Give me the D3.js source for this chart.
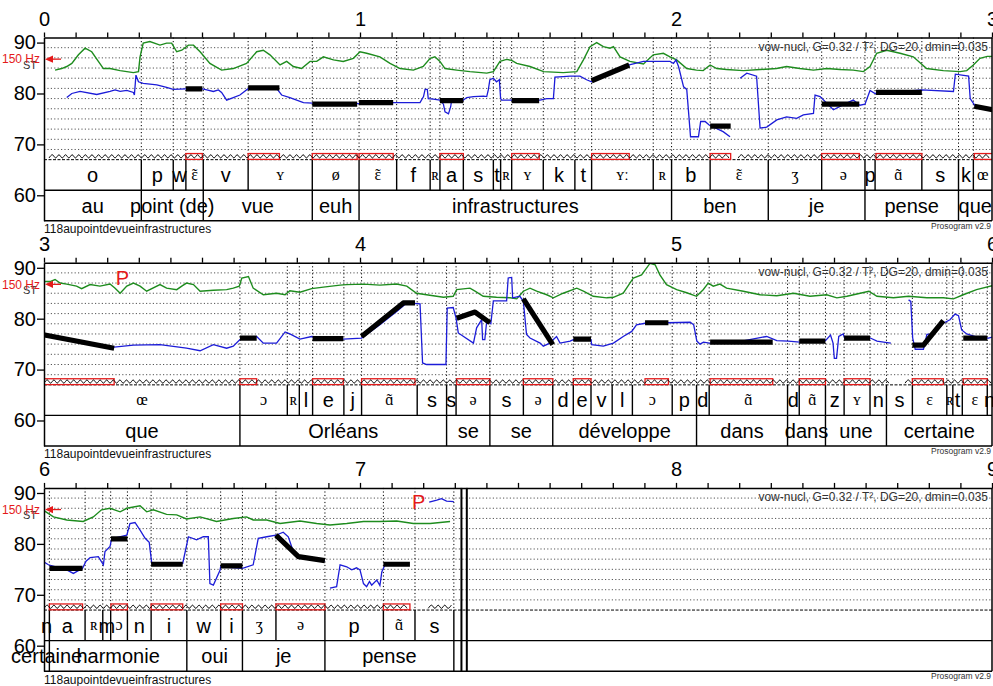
<!DOCTYPE html>
<html><head><meta charset="utf-8">
<script src="https://cdn.jsdelivr.net/npm/d3@7"></script>
<style>
body{margin:0;background:#fff;}
svg{display:block;}
text{font-family:"Liberation Sans",Arial,Helvetica,sans-serif;}
</style></head><body>
<svg id="chart" width="993" height="686"></svg>
<script>
// ---------------- DATA ----------------
const panelStarts = [0, 3, 6];
const panelDuration = 3;
const yTicks = [60, 70, 80, 90];
const gridST = [69, 71, 73, 75, 77, 79, 81, 83, 85, 87, 89];
const stRange = [55, 91];
const plotFloorST = 67, tierSplitST = 61;
const refHz = 150;
const paramText = "vow-nucl, G=0.32 / T\u00B2, DG=20, dmin=0.035";
const fileName = "118aupointdevueinfrastructures";
const versionText = "Prosogram v2.9";

// phones: [label, start, end]
const phones = [
["o",0.000,0.308],["p",0.308,0.409],["w",0.409,0.449],["ɛ̃",0.449,0.504],["v",0.504,0.646],["ʏ",0.646,0.849],
["ø",0.849,0.997],["ɛ̃",0.997,1.116],["f",1.116,1.222],["ʀ",1.222,1.253],["a",1.253,1.327],["s",1.327,1.422],
["t",1.422,1.445],["ʀ",1.445,1.480],["ʏ",1.480,1.580],["k",1.580,1.680],["t",1.680,1.733],["ʏː",1.733,1.928],
["ʀ",1.928,1.986],["b",1.986,2.108],["ɛ̃",2.108,2.292],["ʒ",2.292,2.461],["ə",2.461,2.598],["p",2.598,2.630],
["ɑ̃",2.630,2.778],["s",2.778,2.894],["k",2.894,2.941],["œ",2.941,3.620],["ɔ",3.620,3.770],["ʀ",3.770,3.808],
["l",3.808,3.850],["e",3.850,3.949],["j",3.949,4.005],["ɑ̃",4.005,4.181],["s",4.181,4.274],["s",4.274,4.304],
["ə",4.304,4.411],["s",4.411,4.517],["ə",4.517,4.610],["d",4.610,4.675],["e",4.675,4.731],["v",4.731,4.798],
["l",4.798,4.862],["ɔ",4.862,4.988],["p",4.988,5.065],["d",5.065,5.105],["ɑ̃",5.105,5.353],["d",5.353,5.390],
["ɑ̃",5.390,5.473],["z",5.473,5.532],["ʏ",5.532,5.614],["n",5.614,5.666],["s",5.666,5.748],["ɛ",5.748,5.857],
["ʀ",5.857,5.876],["t",5.876,5.906],["ɛ",5.906,5.985],["n",5.985,6.017],["a",6.017,6.130],["ʀ",6.130,6.186],
["m",6.186,6.211],["ɔ",6.211,6.264],["n",6.264,6.339],["i",6.339,6.452],["w",6.452,6.559],["i",6.559,6.628],
["ʒ",6.628,6.734],["ə",6.734,6.889],["p",6.889,7.074],["ɑ̃",7.074,7.174],["s",7.174,7.297]
];

// words: [label, start, end]
const words = [
["au",0.000,0.308],["point (de)",0.308,0.504],["vue",0.504,0.849],["euh",0.849,0.997],
["infrastructures",0.997,1.986],["ben",1.986,2.292],["je",2.292,2.598],["pense",2.598,2.894],
["que",2.894,3.620],["Orléans",3.620,4.274],["se",4.274,4.411],["se",4.411,4.610],
["développe",4.610,5.065],["dans",5.065,5.353],["dans",5.353,5.473],["une",5.473,5.666],
["certaine",5.666,6.017],["harmonie",6.017,6.452],["oui",6.452,6.628],["je",6.628,6.889],["pense",6.889,7.297]
];

// nuclei: start, end, stylized pitch points [t, ST]
const nucleiStart = [0.449,0.646,0.849,0.997,1.253,1.480,1.733,2.108,2.461,2.633,2.944,3.620,3.850,4.005,4.306,4.517,4.675,4.902,5.108,5.390,5.532,5.748,5.909,6.017,6.212,6.339,6.559,6.734,7.074];
const nucleiEnd   = [0.501,0.745,0.991,1.105,1.327,1.567,1.852,2.173,2.580,2.778,3.222,3.673,3.947,4.174,4.411,4.610,4.731,4.976,5.306,5.473,5.614,5.846,5.985,6.122,6.264,6.439,6.628,6.889,7.158];
const stylization = [
[[0.449,80.9],[0.501,80.9]], [[0.646,81.1],[0.745,81.1]], [[0.849,77.9],[0.991,77.9]],
[[0.997,78.2],[1.105,78.2]], [[1.253,78.6],[1.327,78.6]], [[1.480,78.6],[1.567,78.6]],
[[1.733,82.5],[1.852,85.6]], [[2.108,73.6],[2.173,73.6]], [[2.461,77.9],[2.580,77.9]],
[[2.633,80.2],[2.778,80.2]], [[2.944,77.5],[3.222,74.2]], [[3.620,76.2],[3.673,76.2]],
[[3.850,76.1],[3.947,76.1]], [[4.005,76.5],[4.137,83.1],[4.174,83.1]],
[[4.306,80.1],[4.364,81.3],[4.411,79.2]], [[4.517,83.9],[4.610,74.9]],
[[4.675,76.0],[4.731,76.0]], [[4.902,79.2],[4.976,79.2]], [[5.108,75.4],[5.306,75.4]],
[[5.390,75.6],[5.473,75.6]], [[5.532,76.2],[5.614,76.2]], [[5.748,74.8],[5.783,74.8],[5.846,79.6]],
[[5.909,76.2],[5.985,76.2]], [[6.017,75.2],[6.122,75.2]], [[6.212,81.0],[6.264,81.0]],
[[6.339,76.0],[6.439,76.0]], [[6.559,75.7],[6.628,75.7]], [[6.734,81.7],[6.805,77.5],[6.889,76.7]],
[[7.074,76.0],[7.158,76.0]]
];

// pitch (blue), [t, ST], null = gap
const pitch = [
[0.072,79.2],[0.088,80.0],[0.114,80.4],[0.167,79.8],[0.209,80.4],[0.225,80.7],[0.241,80.4],[0.262,80.6],[0.283,80.2],[0.286,79.7],[0.291,83.6],[0.299,82.3],[0.314,82.0],[0.357,81.7],[0.388,81.2],[0.409,80.8],[0.449,80.9],[0.494,81.0],[0.515,80.7],[0.536,80.4],[0.552,80.7],[0.562,80.2],[0.578,78.7],[0.599,79.2],[0.620,79.7],[0.647,81.0],[0.684,81.2],[0.736,81.0],[0.752,79.7],[0.778,79.2],[0.821,78.2],[0.849,78.1],[0.920,77.9],[0.990,78.0],[1.050,78.2],[1.190,78.2],[1.201,79.4],[1.206,80.8],[1.213,80.8],[1.216,79.0],[1.232,78.9],[1.253,78.7],[1.264,77.9],[1.269,76.4],[1.280,76.0],[1.287,77.4],[1.290,78.7],[1.327,78.7],[1.338,79.2],[1.359,79.4],[1.391,79.5],[1.401,79.4],[1.406,80.7],[1.411,82.7],[1.422,83.0],[1.432,82.3],[1.441,82.7],[1.445,79.0],[1.448,78.7],[1.570,78.7],[1.591,79.0],[1.612,79.0],[1.617,83.2],[1.643,83.3],[1.665,83.4],[1.696,83.4],[1.717,82.7],[1.733,82.3],[1.790,83.9],[1.852,85.6],[1.897,86.3],[1.981,86.3],[1.992,85.9],[2.000,86.6],[2.008,85.3],[2.024,81.3],[2.034,80.8],[2.046,71.5],[2.071,71.5],[2.078,74.5],[2.092,74.5],[2.105,73.8],[2.149,72.5],[2.171,71.5],null,
[2.203,83.0],[2.224,84.0],[2.255,83.4],[2.266,73.2],[2.287,73.4],[2.319,74.8],[2.350,75.4],[2.382,75.1],[2.403,75.8],[2.435,76.1],[2.440,79.7],[2.456,79.4],[2.498,76.8],[2.540,78.1],[2.561,78.7],[2.582,77.7],[2.598,77.9],[2.614,80.6],[2.630,80.0],[2.700,80.3],[2.778,80.7],[2.878,80.4],[2.884,83.8],[2.926,83.4],[2.931,79.0],[2.947,77.5],[3.001,77.0],[3.072,76.2],[3.114,75.6],[3.222,74.4],[3.283,74.8],[3.367,74.9],[3.451,74.2],[3.494,73.7],[3.536,74.9],[3.578,74.2],[3.599,74.6],[3.620,75.9],[3.673,76.5],[3.694,75.2],[3.736,75.2],[3.763,77.4],[3.778,77.0],[3.810,76.0],[3.847,76.5],[3.947,76.0],[4.005,76.2],[4.063,78.8],[4.116,81.4],[4.148,83.1],[4.190,82.9],[4.198,71.3],[4.211,71.0],[4.272,71.0],[4.276,82.1],[4.295,82.2],[4.304,80.1],[4.311,77.2],[4.359,75.2],[4.369,78.2],[4.385,79.8],[4.388,75.9],[4.395,75.9],[4.401,79.5],[4.414,79.0],[4.422,83.5],[4.464,83.5],[4.469,88.0],[4.480,88.1],[4.483,84.1],[4.506,84.4],[4.517,83.4],[4.527,76.9],[4.538,76.2],[4.570,75.2],[4.580,74.6],[4.601,75.2],[4.612,75.9],[4.622,76.5],[4.633,75.2],[4.665,75.6],[4.675,75.9],[4.731,75.9],[4.733,74.9],[4.770,74.6],[4.802,75.2],[4.833,76.5],[4.860,77.5],[4.875,78.8],[4.902,79.1],[5.045,79.3],[5.056,78.8],[5.066,75.6],[5.076,75.0],[5.087,75.4],[5.106,75.2],[5.200,75.5],[5.266,76.3],[5.287,76.5],[5.319,75.7],[5.355,75.6],[5.392,75.4],[5.473,75.7],[5.489,76.8],[5.497,75.2],[5.501,72.2],[5.508,72.2],[5.515,76.5],[5.529,77.0],[5.534,76.2],[5.615,76.2],[5.636,75.6],[5.657,75.4],[5.680,75.2],null,
[5.736,83.7],[5.743,83.4],[5.749,76.2],[5.757,74.0],[5.783,74.0],[5.794,76.9],[5.815,77.0],[5.846,79.1],[5.867,79.8],[5.883,80.9],[5.894,80.6],[5.904,77.8],[5.920,77.0],[5.962,76.2],[5.989,76.2],[6.001,76.4],[6.014,75.9],[6.072,74.9],[6.093,74.2],[6.122,75.2],[6.133,76.6],[6.146,77.3],[6.172,77.5],[6.188,75.9],[6.193,78.5],[6.209,79.5],[6.214,81.0],[6.262,81.7],[6.272,84.0],[6.288,84.2],[6.304,82.7],[6.320,81.1],[6.333,80.3],[6.341,76.2],[6.439,76.2],[6.457,81.4],[6.483,80.8],[6.504,81.4],[6.520,81.4],[6.525,72.2],[6.536,71.9],[6.557,74.8],[6.559,75.5],[6.628,75.2],[6.662,75.9],[6.678,81.1],[6.705,81.4],[6.734,81.7],[6.757,82.3],[6.773,81.4],[6.789,78.5],[6.805,77.5],[6.889,76.6],null,
[6.905,71.3],[6.926,71.6],[6.937,75.9],[6.958,75.5],[6.974,74.9],[6.989,75.3],[7.000,74.9],[7.011,72.2],[7.021,71.6],[7.030,72.6],[7.037,71.9],[7.053,72.9],[7.063,71.8],[7.069,74.5],[7.079,75.9],null,
[7.219,88.2],[7.243,88.6],[7.258,88.9],[7.274,88.4],[7.297,88.3]
];

// intensity (green), [t, scaled value]
const intensity = [
[0.035,84.6],[0.056,84.9],[0.072,85.3],[0.088,85.9],[0.109,87.6],[0.130,88.9],[0.151,88.2],[0.172,86.3],[0.188,84.9],[0.209,84.9],[0.241,84.5],[0.283,84.1],[0.299,84.3],[0.304,87.2],[0.314,89.9],[0.335,90.2],[0.367,89.5],[0.388,89.9],[0.404,89.9],[0.420,88.2],[0.436,88.5],[0.457,89.5],[0.473,89.5],[0.494,88.2],[0.525,85.9],[0.562,84.6],[0.599,84.9],[0.641,85.9],[0.673,88.2],[0.694,88.5],[0.715,87.6],[0.747,85.6],[0.768,86.3],[0.789,85.3],[0.815,84.9],[0.842,86.3],[0.863,86.3],[0.884,87.2],[0.916,86.6],[0.947,86.3],[0.979,86.9],[1.000,88.2],[1.021,87.9],[1.063,87.2],[1.095,85.9],[1.127,84.9],[1.169,84.6],[1.200,85.3],[1.222,86.9],[1.237,87.2],[1.253,86.3],[1.269,84.9],[1.306,84.6],[1.348,84.3],[1.401,84.0],[1.422,84.3],[1.443,86.3],[1.464,86.7],[1.480,86.5],[1.496,85.9],[1.538,85.3],[1.581,84.3],[1.643,84.1],[1.686,84.3],[1.707,86.6],[1.728,89.2],[1.749,90.0],[1.770,89.2],[1.791,88.9],[1.802,89.2],[1.823,87.2],[1.854,86.3],[1.897,85.8],[1.928,87.6],[1.960,87.9],[1.981,87.2],[2.002,86.6],[2.034,84.9],[2.065,84.6],[2.086,84.5],[2.108,85.6],[2.129,84.9],[2.160,84.7],[2.213,84.5],[2.266,84.7],[2.318,84.9],[2.350,85.3],[2.392,84.9],[2.435,84.6],[2.477,84.9],[2.519,84.7],[2.561,84.6],[2.593,84.3],[2.614,85.3],[2.635,87.9],[2.667,88.5],[2.709,87.9],[2.751,87.2],[2.793,84.9],[2.846,84.5],[2.899,84.3],[2.920,84.5],[2.941,85.6],[2.962,86.9],[2.985,87.3],[3.019,87.3],[3.035,87.7],[3.051,87.0],[3.072,86.8],[3.103,86.4],[3.119,85.9],[3.146,86.7],[3.177,86.4],[3.209,86.8],[3.225,86.0],[3.241,85.0],[3.262,86.4],[3.283,87.0],[3.304,86.4],[3.325,85.4],[3.367,86.7],[3.388,86.0],[3.420,85.7],[3.436,86.4],[3.451,87.0],[3.473,86.7],[3.494,85.4],[3.536,85.6],[3.578,85.7],[3.599,86.0],[3.618,86.4],[3.626,88.0],[3.647,88.3],[3.662,86.0],[3.694,84.7],[3.736,85.0],[3.763,84.7],[3.778,85.5],[3.810,85.2],[3.847,85.9],[3.884,86.2],[3.937,86.6],[3.958,86.7],[4.011,86.8],[4.063,86.6],[4.116,86.8],[4.148,86.4],[4.179,85.0],[4.221,84.6],[4.264,84.2],[4.295,84.4],[4.306,85.7],[4.348,86.0],[4.364,85.4],[4.390,84.4],[4.432,84.2],[4.475,84.1],[4.496,83.9],[4.517,85.4],[4.538,86.0],[4.559,85.4],[4.591,84.7],[4.612,84.1],[4.643,85.0],[4.686,86.0],[4.707,85.4],[4.738,84.4],[4.781,84.1],[4.802,84.2],[4.833,85.0],[4.865,88.0],[4.891,88.6],[4.918,90.9],[4.934,90.6],[4.949,88.6],[4.970,86.7],[5.002,85.7],[5.034,85.1],[5.065,84.4],[5.086,85.7],[5.102,87.0],[5.118,86.4],[5.139,86.8],[5.160,86.0],[5.213,85.4],[5.266,84.7],[5.319,84.5],[5.372,85.0],[5.424,84.4],[5.477,84.7],[5.509,84.1],[5.541,84.4],[5.583,85.0],[5.610,85.4],[5.636,84.4],[5.688,84.1],[5.736,84.4],[5.794,84.1],[5.846,84.1],[5.878,83.9],[5.909,84.7],[5.951,85.7],[6.001,86.5],[6.030,85.3],[6.072,84.7],[6.124,84.4],[6.156,85.3],[6.182,86.7],[6.209,87.0],[6.241,86.3],[6.262,87.0],[6.304,87.5],[6.325,86.3],[6.346,86.7],[6.388,85.8],[6.420,85.7],[6.451,84.9],[6.494,85.3],[6.546,84.4],[6.599,85.0],[6.641,85.3],[6.662,84.7],[6.705,84.7],[6.747,84.0],[6.810,84.5],[6.863,84.0],[6.905,83.7],[6.958,84.0],[7.011,84.4],[7.063,84.4],[7.116,84.5],[7.169,84.0],[7.222,84.0],[7.285,84.4]
];

// analysed (voiced) spans shown as the wavy baseline
const spanStart = [0.016, 2.197, 5.725, 7.216];
const spanEnd   = [2.176, 5.683, 7.158, 7.297];

// pause markers [t, ST]
const pauses = [[3.248, 88.0], [7.186, 88.2]];
// end-of-signal double bar
const signalEndMarks = [7.321, 7.338];

// ---------------- LAYOUT ----------------
const LEFT = 44, RIGHT = 992, TOP0 = 37.5, PANEL_STEP = 225.2, PX_PER_ST = 5.09;
const GREEN = "#1e8c1e", BLUE = "#1c1cd8", RED = "#e41a1a";
const isAscii = s => /^[\x00-\x7F]+$/.test(s);
const TILDE = "\u0303";

const svg = d3.select("#chart");
const defs = svg.append("defs");

panelStarts.forEach((t0, i) => {
  const top = TOP0 + i * PANEL_STEP;
  const t1 = t0 + panelDuration;
  const x = d3.scaleLinear().domain([t0, t1]).range([LEFT, RIGHT]);
  const y = d3.scaleLinear().domain(stRange).range([top + (stRange[1]-stRange[0]) * PX_PER_ST, top]);
  const g = svg.append("g");
  const clipId = "clip" + i;
  defs.append("clipPath").attr("id", clipId).append("rect")
    .attr("x", LEFT).attr("y", top).attr("width", RIGHT - LEFT).attr("height", y(stRange[0]) - top);
  const inP = (s, e) => e > t0 && s < t1;
  const cs = v => Math.max(v, t0), ce = v => Math.min(v, t1);

  // grid
  g.selectAll(".grid").data(gridST).join("line")
    .attr("x1", LEFT).attr("x2", RIGHT).attr("y1", d => y(d)).attr("y2", d => y(d))
    .attr("stroke", "#555").attr("stroke-width", 1).attr("stroke-dasharray", "1.2,2.2");
  g.append("line").attr("x1", LEFT).attr("x2", RIGHT).attr("y1", y(plotFloorST)).attr("y2", y(plotFloorST))
    .attr("stroke", "#000").attr("stroke-width", 1).attr("stroke-dasharray", "3,1.5");

  // phone boundaries (dotted in plot, solid in tier)
  const pb = Array.from(new Set(phones.flatMap(p => [p[1], p[2]]))).filter(b => b > t0 + 1e-6 && b < t1 - 1e-6);
  g.selectAll(".vdot").data(pb).join("line")
    .attr("x1", d => x(d)).attr("x2", d => x(d)).attr("y1", y(stRange[1])).attr("y2", y(plotFloorST))
    .attr("stroke", "#000").attr("stroke-width", 1).attr("stroke-dasharray", "1.2,2.3");
  g.selectAll(".pbound").data(pb).join("line")
    .attr("x1", d => x(d)).attr("x2", d => x(d)).attr("y1", y(plotFloorST)).attr("y2", y(tierSplitST))
    .attr("stroke", "#000").attr("stroke-width", 1.4);
  const wb = Array.from(new Set(words.flatMap(w => [w[1], w[2]]))).filter(b => b > t0 + 1e-6 && b < t1 - 1e-6);
  g.selectAll(".wbound").data(wb).join("line")
    .attr("x1", d => x(d)).attr("x2", d => x(d)).attr("y1", y(tierSplitST)).attr("y2", y(stRange[0]))
    .attr("stroke", "#000").attr("stroke-width", 1.4);
  g.append("line").attr("x1", LEFT).attr("x2", RIGHT).attr("y1", y(tierSplitST)).attr("y2", y(tierSplitST))
    .attr("stroke", "#000").attr("stroke-width", 1.4);

  const cg = g.append("g").attr("clip-path", `url(#${clipId})`);

  // nucleus boxes
  const nIdx = d3.range(nucleiStart.length).filter(k => inP(nucleiStart[k], nucleiEnd[k]));
  cg.selectAll(".nuc").data(nIdx).join("rect")
    .attr("x", k => x(nucleiStart[k])).attr("width", k => x(nucleiEnd[k]) - x(nucleiStart[k]))
    .attr("y", y(68.2)).attr("height", y(67.05) - y(68.2))
    .attr("fill", "none").attr("stroke", RED).attr("stroke-width", 1.3);

  // wavy baseline over analysed spans
  const zyC = y(67.65);
  d3.range(spanStart.length).filter(k => inP(spanStart[k], spanEnd[k])).forEach(k => {
    const xa = x(cs(spanStart[k])), xb = x(ce(spanEnd[k]));
    const pts = [];
    let n = 0;
    for (let xx = xa; xx <= xb; xx += 3.3, n++) pts.push([xx, zyC + (n % 2 ? -1.6 : 1.6)]);
    cg.append("path").attr("d", d3.line().curve(d3.curveMonotoneX)(pts))
      .attr("fill", "none").attr("stroke", "#000").attr("stroke-width", 1);
  });

  // intensity & pitch
  const ln = d3.line().defined(d => d !== null).x(d => x(d[0])).y(d => y(d[1]));
  cg.append("path").attr("d", ln(intensity)).attr("fill", "none").attr("stroke", GREEN).attr("stroke-width", 1.4);
  cg.append("path").attr("d", ln(pitch)).attr("fill", "none").attr("stroke", BLUE).attr("stroke-width", 1.3);

  // stylization
  cg.selectAll(".sty").data(stylization).join("path")
    .attr("d", d => ln(d)).attr("fill", "none").attr("stroke", "#000").attr("stroke-width", 5.2)
    .attr("stroke-linecap", "butt").attr("stroke-linejoin", "round");

  // pauses
  g.selectAll(".pause").data(pauses.filter(p => p[0] > t0 && p[0] < t1)).join("text")
    .attr("x", d => x(d[0])).attr("y", d => y(d[1])).attr("dy", "0.36em")
    .attr("text-anchor", "middle").attr("font-size", 20).attr("fill", RED).text("P");

  // end of signal
  g.selectAll(".endm").data(signalEndMarks.filter(t => t > t0 && t < t1)).join("line")
    .attr("x1", d => x(d)).attr("x2", d => x(d)).attr("y1", y(stRange[1])).attr("y2", y(stRange[0]))
    .attr("stroke", "#000").attr("stroke-width", 2);

  // phone labels
  const serif = '"Liberation Serif","DejaVu Serif",serif';
  const visPh = phones.filter(p => inP(p[1], p[2]));
  const phY = y((plotFloorST + tierSplitST) / 2);
  g.selectAll(".plab").data(visPh).join("text")
    .attr("x", d => x((cs(d[1]) + ce(d[2])) / 2)).attr("y", phY)
    .attr("dy", d => isAscii(d[0]) ? "0.36em" : "0.3em")
    .attr("text-anchor", "middle")
    .attr("font-size", d => isAscii(d[0]) ? 20 : 16)
    .style("font-family", d => isAscii(d[0]) ? '"Liberation Sans",Arial,sans-serif' : serif)
    .attr("fill", "#000").text(d => d[0].replace(TILDE, ""));
  // nasal tilde drawn as a spacing accent over the base glyph
  g.selectAll(".tilde").data(visPh.filter(d => d[0].includes(TILDE))).join("text")
    .attr("x", d => x((cs(d[1]) + ce(d[2])) / 2)).attr("y", phY)
    .attr("dy", "0.3em").attr("text-anchor", "middle").attr("font-size", 16)
    .style("font-family", serif).attr("fill", "#000").text("\u02DC");

  // word labels
  g.selectAll(".wlab").data(words.filter(w => inP(w[1], w[2]))).join("text")
    .attr("x", d => x((cs(d[1]) + ce(d[2])) / 2)).attr("y", y((tierSplitST + stRange[0]) / 2))
    .attr("dy", "0.36em").attr("text-anchor", "middle").attr("font-size", 20).attr("fill", "#000")
    .text(d => d[0]);

  // axes
  const topTicks = d3.range(0, 31).map(k => +(t0 + k * 0.1).toFixed(2));
  const ax = g.append("g").attr("transform", `translate(0,${top})`)
    .call(d3.axisTop(x).tickValues(topTicks).tickSize(5).tickSizeOuter(0).tickPadding(7)
      .tickFormat(d => Math.abs(d - Math.round(d)) < 1e-6 ? String(Math.round(d)) : ""));
  ax.selectAll("text").attr("font-size", 20).attr("fill", "#000").style("font-family", '"Liberation Sans",Arial,sans-serif');
  ax.selectAll("line").attr("stroke-width", 1.3);
  ax.select(".domain").attr("stroke-width", 1.5);

  const ay = g.append("g").attr("transform", `translate(${LEFT},0)`)
    .call(d3.axisLeft(y).tickValues(yTicks).tickSize(7).tickSizeOuter(0).tickPadding(1).tickFormat(d3.format("d")));
  ay.selectAll("text").attr("font-size", 20).attr("fill", "#000").style("font-family", '"Liberation Sans",Arial,sans-serif');
  ay.selectAll("line").attr("stroke-width", 1.3);
  ay.select(".domain").attr("stroke-width", 1.5);

  // right & bottom border
  g.append("line").attr("x1", RIGHT).attr("x2", RIGHT).attr("y1", y(stRange[1])).attr("y2", y(stRange[0]))
    .attr("stroke", "#000").attr("stroke-width", 1.5);
  g.append("line").attr("x1", LEFT).attr("x2", RIGHT).attr("y1", y(stRange[0])).attr("y2", y(stRange[0]))
    .attr("stroke", "#000").attr("stroke-width", 1.5);

  // reference frequency marker
  const refST = 12 * Math.log2(refHz);
  g.append("text").attr("x", 30).attr("y", y(refST) + 9.5).attr("text-anchor", "middle")
    .attr("font-size", 11).attr("fill", "#333").text("ST");
  g.append("text").attr("x", 2).attr("y", y(refST)).attr("dy", "0.36em")
    .attr("font-size", 12).attr("fill", RED).text(refHz + " Hz");
  g.append("line").attr("x1", 52).attr("x2", 61).attr("y1", y(refST)).attr("y2", y(refST))
    .attr("stroke", RED).attr("stroke-width", 1.3);
  g.append("path").attr("d", `M${45},${y(refST)} L${53},${y(refST) - 3.6} L${53},${y(refST) + 3.6} Z`).attr("fill", RED);

  // texts
  g.append("text").attr("x", RIGHT - 4).attr("y", top + 13.5).attr("text-anchor", "end")
    .attr("font-size", 12).attr("fill", "#333").text(paramText);
  g.append("text").attr("x", RIGHT - 1).attr("y", y(stRange[0]) + 8).attr("text-anchor", "end")
    .attr("font-size", 8.5).attr("fill", "#333").text(versionText);
  g.append("text").attr("x", LEFT).attr("y", y(stRange[0]) + 12.5)
    .attr("font-size", 12).attr("fill", "#111").text(fileName);
});
</script>
</body></html>
